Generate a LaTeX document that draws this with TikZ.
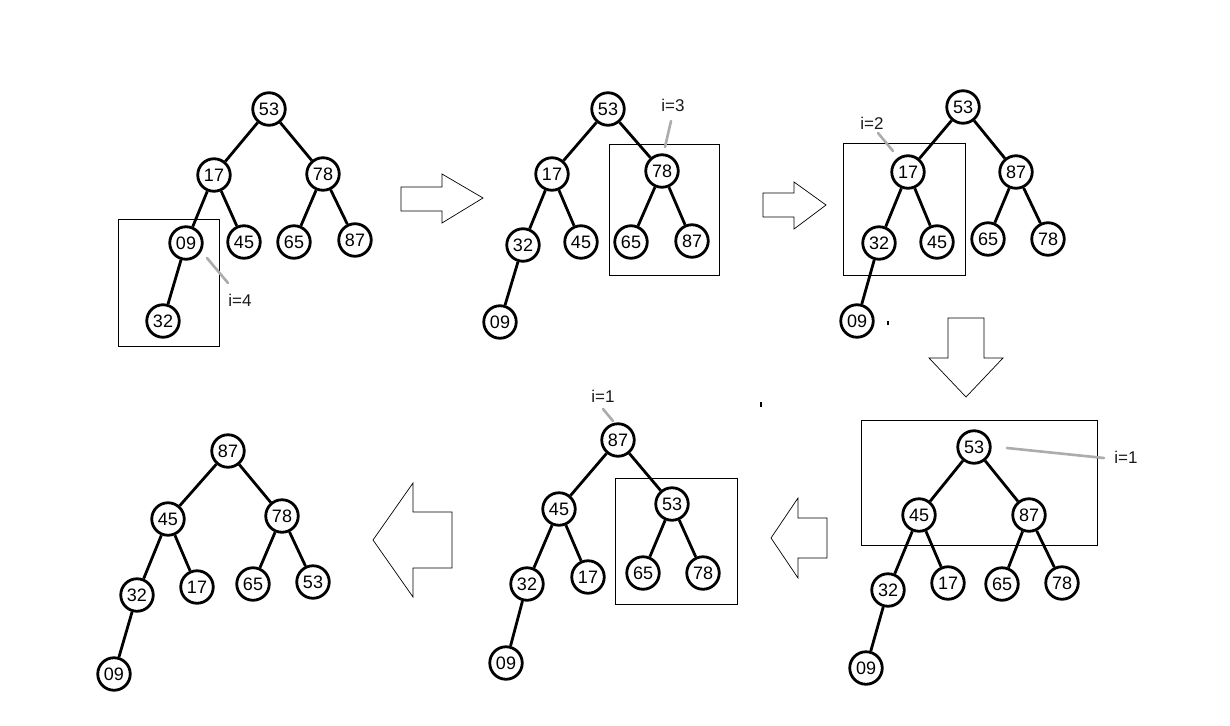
\documentclass[tikz,border=0pt]{standalone}
\usepackage{fontspec}
\setmainfont{Liberation Sans}
\begin{document}
\begin{tikzpicture}[x=1pt,y=-1pt,
  key/.style={circle,draw,line width=2.8pt,minimum size=32.5pt,inner sep=0pt,font=\fontsize{18}{20}\selectfont,fill=white},
  edge/.style={line width=2.8pt},
  frame/.style={draw,line width=0.9pt},
  lbl/.style={font=\fontsize{17}{19}\selectfont,text=black!90,inner sep=0pt},
  ptr/.style={line width=2.6pt,gray!65,line cap=round},
  bigarrow/.style={draw,line width=0.7pt,fill=white,line join=miter}]
\useasboundingbox (0,0) rectangle (1230,725);
\fill[white] (0,0) rectangle (1230,725);

% ---------- Tree A ----------
\node[key] (a53) at (269,109) {53};
\node[key] (a17) at (214,175) {17};
\node[key] (a78) at (323,174) {78};
\node[key] (a09) at (186,243) {09};
\node[key] (a45) at (244,242) {45};
\node[key] (a65) at (294,242) {65};
\node[key] (a87) at (355,240) {87};
\node[key] (a32) at (163,321) {32};
\draw[edge] (a53)--(a17) (a53)--(a78) (a17)--(a09) (a17)--(a45) (a78)--(a65) (a78)--(a87) (a09)--(a32);
\draw[frame] (118,219) rectangle (219,346);
\node[lbl] (la) at (240,300) {i=4};
\coordinate (pa1) at (207,258);
\coordinate (pa2) at (228,283);
\draw[ptr] (pa1)--(pa2);

% ---------- Tree B ----------
\node[key] (b53) at (608,109) {53};
\node[key] (b17) at (552,174) {17};
\node[key] (b78) at (662,171) {78};
\node[key] (b32) at (523,245) {32};
\node[key] (b45) at (581,242) {45};
\node[key] (b65) at (631,242) {65};
\node[key] (b87) at (692,241) {87};
\node[key] (b09) at (500,322) {09};
\draw[edge] (b53)--(b17) (b53)--(b78) (b17)--(b32) (b17)--(b45) (b78)--(b65) (b78)--(b87) (b32)--(b09);
\draw[frame] (609,144) rectangle (719,275);
\node[lbl] (lb) at (673,105) {i=3};
\coordinate (pb1) at (671,121);
\coordinate (pb2) at (665,147);
\draw[ptr] (pb1)--(pb2);

% ---------- Tree C ----------
\node[key] (c53) at (963,107) {53};
\node[key] (c17) at (908,172) {17};
\node[key] (c87) at (1016,172) {87};
\node[key] (c32) at (879,243) {32};
\node[key] (c45) at (937,242) {45};
\node[key] (c65) at (988,239) {65};
\node[key] (c78) at (1048,239) {78};
\node[key] (c09) at (857,321) {09};
\draw[edge] (c53)--(c17) (c53)--(c87) (c17)--(c32) (c17)--(c45) (c87)--(c65) (c87)--(c78) (c32)--(c09);
\draw[frame] (843,143) rectangle (965,275);
\node[lbl] (lc) at (872,123) {i=2};
\coordinate (pc1) at (878,133);
\coordinate (pc2) at (893,151);
\draw[ptr] (pc1)--(pc2);
\fill (887,321) rectangle (889,325);

% ---------- Tree D ----------
\node[key] (d53) at (974,447) {53};
\node[key] (d45) at (919,515) {45};
\node[key] (d87) at (1029,515) {87};
\node[key] (d32) at (888,590) {32};
\node[key] (d17) at (948,583) {17};
\node[key] (d65) at (1002,584) {65};
\node[key] (d78) at (1062,583) {78};
\node[key] (d09) at (866,668) {09};
\draw[edge] (d53)--(d45) (d53)--(d87) (d45)--(d32) (d45)--(d17) (d87)--(d65) (d87)--(d78) (d32)--(d09);
\draw[frame] (861,420) rectangle (1097,545);
\node[lbl] (ld) at (1126,457) {i=1};
\coordinate (pd1) at (1007,448);
\coordinate (pd2) at (1104,458);
\draw[ptr] (pd1)--(pd2);

% ---------- Tree E ----------
\node[key] (e87) at (618,440) {87};
\node[key] (e45) at (559,509) {45};
\node[key] (e53) at (672,504) {53};
\node[key] (e32) at (527,584) {32};
\node[key] (e17) at (588,577) {17};
\node[key] (e65) at (643,573) {65};
\node[key] (e78) at (703,573) {78};
\node[key] (e09) at (506,663) {09};
\draw[edge] (e87)--(e45) (e87)--(e53) (e45)--(e32) (e45)--(e17) (e53)--(e65) (e53)--(e78) (e32)--(e09);
\draw[frame] (615,478) rectangle (737,604);
\node[lbl] (le) at (603,396) {i=1};
\coordinate (pe1) at (603,409);
\coordinate (pe2) at (613,421);
\draw[ptr] (pe1)--(pe2);
\fill (760,402) rectangle (762,407);

% ---------- Tree F ----------
\node[key] (f87) at (228,451) {87};
\node[key] (f45) at (168,519) {45};
\node[key] (f78) at (282,516) {78};
\node[key] (f32) at (137,595) {32};
\node[key] (f17) at (197,587) {17};
\node[key] (f65) at (253,584) {65};
\node[key] (f53) at (313,582) {53};
\node[key] (f09) at (114,674) {09};
\draw[edge] (f87)--(f45) (f87)--(f78) (f45)--(f32) (f45)--(f17) (f78)--(f65) (f78)--(f53) (f32)--(f09);

% ---------- Block arrows ----------
\draw[bigarrow] (401,187)--(442,187)--(442,174)--(483,198)--(442,223)--(442,211)--(401,211)--cycle;
\draw[bigarrow] (763,193)--(794,193)--(794,182)--(826,205)--(794,229)--(794,217)--(763,217)--cycle;
\draw[bigarrow] (948,318)--(984,318)--(984,358)--(1003,358)--(966,397)--(929,358)--(948,358)--cycle;
\draw[bigarrow] (827,518)--(798,518)--(798,498)--(771,538)--(798,578)--(798,558)--(827,558)--cycle;
\draw[bigarrow] (452,512)--(413,512)--(413,483)--(373,540)--(413,597)--(413,568)--(452,568)--cycle;
\end{tikzpicture}
\end{document}
